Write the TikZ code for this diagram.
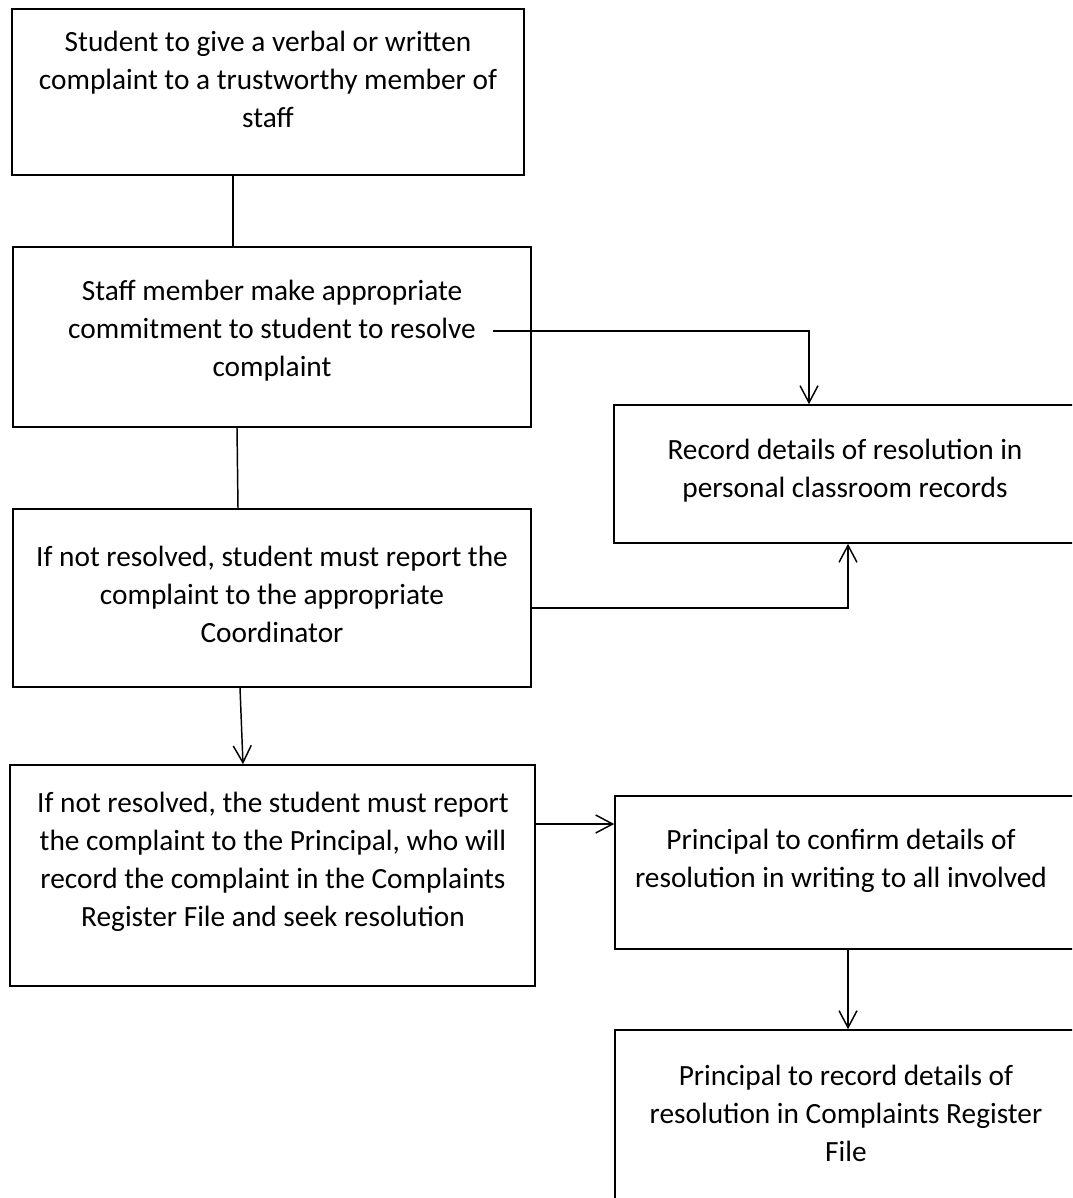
\documentclass[tikz,border=0pt]{standalone}
\usepackage{fontspec}
\setmainfont{Carlito}
\usetikzlibrary{arrows.meta}
\begin{document}
\begin{tikzpicture}[x=0.75pt,y=-0.75pt,
  box/.style={draw,line width=1.2pt,inner sep=0pt,rectangle},
  txt/.style={align=center,inner sep=0pt,font=\fontsize{22pt}{28.5pt}\selectfont},
  conn/.style={line width=1.1pt},
  arr/.style={conn,-{Straight Barb[length=12.75pt,width=13.5pt,line width=1.1pt]}}]
\useasboundingbox (0,0) rectangle (1072,1198);
\clip (0,0) rectangle (1072,1198);
% boxes
\node[box,minimum width=384pt,minimum height=124.5pt] (b1) at (268,92) {};
\node[box,minimum width=388.5pt,minimum height=135pt] (b2) at (272,337) {};
\node[box,minimum width=388.5pt,minimum height=133.5pt] (b3) at (272,598) {};
\node[box,minimum width=393.75pt,minimum height=165.75pt] (b4) at (272.5,875.5) {};
\node[box,minimum width=349.5pt,minimum height=103.5pt] (rec) at (847,474) {};
\node[box,minimum width=348.75pt,minimum height=114.75pt] (conf) at (847.5,872.5) {};
\node[box,minimum width=348.75pt,minimum height=135pt] (fin) at (847.5,1120) {};
% texts
\node[txt] (t1) at (268,79.5) {Student to give a verbal or written\\complaint to a trustworthy member of\\staff};
\node[txt] (t2) at (272,331) {Staff member make appropriate\\commitment to student to resolve\\complaint};
\node[txt] (t3) at (272,594) {If not resolved, student must report the\\complaint to the appropriate\\Coordinator};
\node[txt] (t4) at (273,862) {If not resolved, the student must report\\the complaint to the Principal, who will\\record the complaint in the Complaints\\Register File and seek resolution};
\node[txt] (t5) at (845,471) {Record details of resolution in\\personal classroom records};
\node[txt] (t6) at (841,861) {Principal to confirm details of\\resolution in writing to all involved};
\node[txt] (t7) at (846,1113) {Principal to record details of\\resolution in Complaints Register\\File};
% connectors
\coordinate (s2) at (493,331);
\draw[conn] (b1.south -| 233,0) -- (b2.north -| 233,0);
\draw[conn] (b2.south -| 237,0) -- (b3.north -| 238,0);
\draw[arr] (b3.south -| 240,0) -- (b4.north -| 243,0);
\draw[arr] (s2) -- (809,331) -- (rec.north -| 809,0);
\draw[arr] (b3.east |- 0,608) -- (848,608) -- (rec.south -| 848,0);
\draw[arr] (b4.east |- 0,824) -- (conf.west |- 0,824);
\draw[arr] (conf.south -| 848,0) -- (fin.north -| 848,0);
\end{tikzpicture}
\end{document}
